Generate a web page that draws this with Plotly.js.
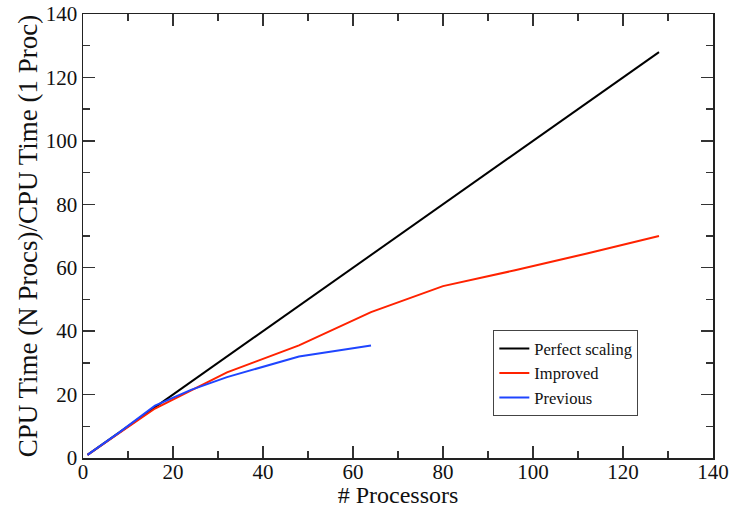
<!DOCTYPE html>
<html>
<head>
<meta charset="utf-8">
<script src="https://cdn.plot.ly/plotly-3.0.1.min.js"></script>
<style>html,body{margin:0;padding:0;background:#fff;}#chart{width:739px;height:508px;}</style>
</head>
<body>
<div id="chart"></div>
<script>
const perfectX = [1, 2, 4, 8, 16, 32, 64, 128];
const perfectY = [1, 2, 4, 8, 16, 32, 64, 128];
const improvedX = [1, 2, 4, 8, 16, 24, 32, 48, 64, 80, 96, 112, 128];
const improvedY = [1, 2, 4, 7.8, 15.6, 21.2, 27, 35.5, 46, 54.2, 59.2, 64.5, 70];
const previousX = [1, 2, 4, 8, 16, 24, 32, 48, 64];
const previousY = [1, 2, 4, 8, 16.5, 21.5, 25.5, 32, 35.5];
const seriesNames = ['Perfect scaling', 'Improved', 'Previous'];

const font = 'Liberation Serif, Times New Roman, serif';
const traces = [
  {x: perfectX, y: perfectY, name: seriesNames[0], mode: 'lines', line: {color: '#000000', width: 2}},
  {x: improvedX, y: improvedY, name: seriesNames[1], mode: 'lines', line: {color: '#ff2200', width: 2}},
  {x: previousX, y: previousY, name: seriesNames[2], mode: 'lines', line: {color: '#1f45ff', width: 2}}
];
const axisCommon = {
  range: [0, 140], dtick: 20, tick0: 0,
  ticks: 'inside', ticklen: 12, tickwidth: 1.3, tickcolor: '#333',
  minor: {ticks: 'inside', ticklen: 7, dtick: 10, tickwidth: 1.3, tickcolor: '#333', showgrid: false},
  showgrid: false, zeroline: false, showline: true, linecolor: '#222', linewidth: 1.5,
  mirror: 'ticks', tickfont: {family: font, size: 21, color: '#111'}
};
const layout = {
  width: 739, height: 508,
  margin: {l: 83, r: 26, t: 14, b: 50},
  paper_bgcolor: '#fff', plot_bgcolor: '#fff',
  showlegend: true,
  legend: {x: 0.651, y: 0.288, xanchor: 'left', yanchor: 'top', bgcolor: '#fff', bordercolor: '#444', borderwidth: 1.2,
    font: {family: font, size: 16.5, color: '#111'}, tracegroupgap: 0, itemwidth: 30},
  xaxis: Object.assign({}, axisCommon, {ticklabelstandoff: -6, title: {text: '# Processors', font: {family: font, size: 24, color: '#111'}, standoff: 0}}),
  yaxis: Object.assign({}, axisCommon, {ticklabelstandoff: 0, title: {text: 'CPU Time (N Procs)/CPU Time (1 Proc)', font: {family: font, size: 27, color: '#111'}, standoff: 0}})
};
Plotly.newPlot('chart', traces, layout, {displayModeBar: false, staticPlot: true});
</script>
</body>
</html>
